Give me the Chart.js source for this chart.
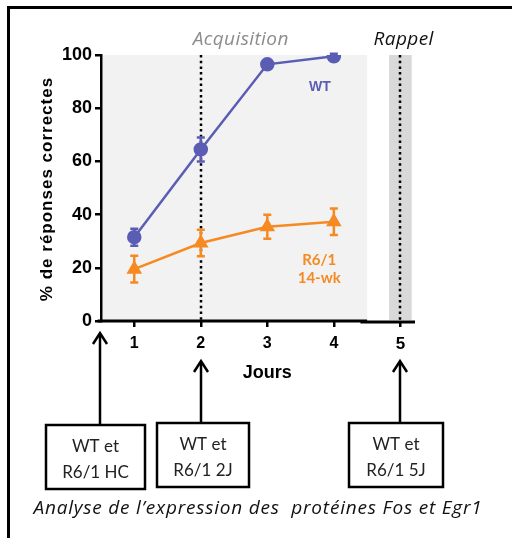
<!DOCTYPE html>
<html>
<head>
<meta charset="UTF-8">
<title>Acquisition / Rappel</title>
<script src="https://cdn.jsdelivr.net/npm/chart.js@4"></script>
<style>
  html, body { margin: 0; padding: 0; background: #fff; }
  #wrap { position: relative; width: 512px; height: 538px; }
</style>
</head>
<body>
<div id="wrap"><canvas id="chart" width="512" height="538"></canvas></div>
<script>
// jours et valeurs (% de réponses correctes)
const jours = [1, 2, 3, 4];
const wtMoy = [31.5, 64.5, 96.5, 99.5];
const wtErr = [3.2, 4.5, 1.5, 1];
const r6Moy = [19.5, 29.3, 35.4, 37.3];
const r6Err = [5, 5, 4.5, 5];
const tickJours = [1, 2, 3, 4, 5];
const tickY = [0, 20, 40, 60, 80, 100];

// moments des analyses (jour) et textes des boîtes
const analyses = [0.5, 2, 5];
const boites = [['WT et', 'R6/1 HC'], ['WT et', 'R6/1 2J'], ['WT et', 'R6/1 5J']];

const bleu = '#5a5db3';
const orange = '#f68a22';
const arial = '"Liberation Sans", Arial, sans-serif';
const calibri = 'Lato, "Open Sans", sans-serif';
const italique = '"Open Sans", Lato, sans-serif';

const decor = {
  id: 'decor',
  beforeDatasetsDraw(chart) {
    const { ctx, scales: { x, y } } = chart;
    ctx.save();
    // zone grise acquisition
    ctx.fillStyle = '#f2f2f2';
    ctx.fillRect(x.getPixelForValue(0.5) + 2, y.getPixelForValue(100), x.getPixelForValue(4.5) - x.getPixelForValue(0.5) - 2, y.getPixelForValue(0) - y.getPixelForValue(100) - 1);
    // bande rappel
    ctx.fillStyle = '#d9d9d9';
    ctx.fillRect(x.getPixelForValue(4.83), y.getPixelForValue(100), x.getPixelForValue(5.17) - x.getPixelForValue(4.83), y.getPixelForValue(0) - y.getPixelForValue(100) - 1);
    // pointillés
    ctx.strokeStyle = '#000';
    ctx.lineWidth = 2.5;
    ctx.setLineDash([2.5, 3.2]);
    [2, 5].forEach(j => {
      const px = Math.round(x.getPixelForValue(j));
      ctx.beginPath();
      ctx.moveTo(px, y.getPixelForValue(100));
      ctx.lineTo(px, y.getPixelForValue(0));
      ctx.stroke();
    });
    ctx.setLineDash([]);
    // axe x cassé
    const y0 = y.getPixelForValue(0);
    ctx.lineWidth = 3;
    ctx.beginPath();
    ctx.moveTo(x.getPixelForValue(0.45), y0);
    ctx.lineTo(x.getPixelForValue(4.5), y0);
    ctx.moveTo(x.getPixelForValue(4.4), y0 + 1);
    ctx.lineTo(x.getPixelForValue(5.22), y0 + 1);
    ctx.stroke();
    // barres d'erreur
    const barres = (moy, err, col) => {
      ctx.strokeStyle = col;
      ctx.lineWidth = 2.5;
      jours.forEach((j, i) => {
        const px = x.getPixelForValue(j);
        const hi = y.getPixelForValue(moy[i] + err[i]);
        const lo = y.getPixelForValue(moy[i] - err[i]);
        ctx.beginPath();
        ctx.moveTo(px, hi); ctx.lineTo(px, lo);
        ctx.moveTo(px - 4, hi); ctx.lineTo(px + 4, hi);
        ctx.moveTo(px - 4, lo); ctx.lineTo(px + 4, lo);
        ctx.stroke();
      });
    };
    barres(wtMoy, wtErr, bleu);
    barres(r6Moy, r6Err, orange);
    ctx.restore();
  },
  afterDraw(chart) {
    const { ctx, scales: { x, y } } = chart;
    ctx.save();
    // cadre
    ctx.fillStyle = '#000';
    ctx.fillRect(7, 6, 505, 3);
    ctx.fillRect(7, 6, 3, 532);
    ctx.textAlign = 'center';
    ctx.textBaseline = 'middle';
    // titre axe y
    ctx.save();
    ctx.translate(47, y.getPixelForValue(50) + 1);
    ctx.rotate(-Math.PI / 2);
    ctx.letterSpacing = '1px';
    ctx.font = 'bold 17px ' + arial;
    ctx.fillStyle = '#000';
    ctx.fillText('% de réponses correctes', 0, 0);
    ctx.restore();
    // titre axe x
    ctx.font = 'bold 18px ' + arial;
    ctx.fillStyle = '#000';
    ctx.fillText('Jours', x.getPixelForValue(3), 373);
    // titres de phases
    ctx.letterSpacing = '0.4px';
    ctx.font = 'italic 19px ' + italique;
    ctx.fillStyle = '#8c8c8c';
    ctx.fillText('Acquisition', x.getPixelForValue(2.6), 40);
    ctx.fillStyle = '#111';
    ctx.fillText('Rappel', x.getPixelForValue(5.05), 40);
    ctx.letterSpacing = '0px';
    // étiquettes des courbes
    ctx.font = 'bold 14px ' + arial;
    ctx.fillStyle = bleu;
    ctx.fillText('WT', x.getPixelForValue(3.79), y.getPixelForValue(88));
    ctx.font = 'bold 15px ' + calibri;
    ctx.fillStyle = orange;
    ctx.fillText('R6/1', x.getPixelForValue(3.78), y.getPixelForValue(23));
    ctx.fillText('14-wk', x.getPixelForValue(3.78), y.getPixelForValue(16));
    // flèches et boîtes
    const boxes = [[46, 425, 99, 64], [157, 423, 92, 64], [349, 423, 94, 64]];
    ctx.strokeStyle = '#000';
    ctx.lineWidth = 2.5;
    analyses.forEach((j, i) => {
      const px = Math.round(x.getPixelForValue(j)) - (i === 0 ? 1 : 0);
      const tip = i === 0 ? 333 : 361;
      const b = boxes[i];
      ctx.beginPath();
      ctx.moveTo(px, b[1]); ctx.lineTo(px, tip);
      ctx.moveTo(px - 7, tip + 11); ctx.lineTo(px, tip); ctx.lineTo(px + 7, tip + 11);
      ctx.stroke();
      ctx.strokeRect(b[0], b[1], b[2], b[3]);
      ctx.fillStyle = '#222';
      ctx.font = '17px ' + calibri;
      ctx.fillText(boites[i][0], b[0] + b[2] / 2, b[1] + 22);
      ctx.fillText(boites[i][1], b[0] + b[2] / 2, b[1] + 48);
    });
    ctx.letterSpacing = '0.8px';
    ctx.font = 'italic 19px ' + italique;
    ctx.fillStyle = '#111';
    ctx.fillText('Analyse de l\u2019expression des  protéines Fos et Egr1', 258, 509);
    ctx.restore();
  }
};

new Chart(document.getElementById('chart'), {
  type: 'scatter',
  data: {
    datasets: [{
      label: 'WT',
      data: jours.map((j, i) => ({ x: j, y: wtMoy[i] })),
      showLine: true,
      borderColor: bleu,
      backgroundColor: bleu,
      borderWidth: 2.5,
      pointStyle: 'circle',
      pointRadius: 6,
      pointHoverRadius: 6
    }, {
      label: 'R6/1 14-wk',
      data: jours.map((j, i) => ({ x: j, y: r6Moy[i] })),
      showLine: true,
      borderColor: orange,
      backgroundColor: orange,
      borderWidth: 2.5,
      pointStyle: 'triangle',
      pointRadius: 6.5,
      pointHoverRadius: 6.5
    }]
  },
  options: {
    responsive: false,
    animation: false,
    layout: { padding: { left: 26, top: 55, right: 95, bottom: 157 } },
    plugins: { legend: { display: false }, tooltip: { enabled: false } },
    scales: {
      x: {
        type: 'linear',
        min: 0.5,
        max: 5.25,
        afterBuildTicks: s => { s.ticks = tickJours.map(v => ({ value: v })); },
        afterFit: s => { s.height = 60; },
        border: { display: false },
        grid: { drawOnChartArea: false, drawTicks: true, tickLength: 6, color: '#000', lineWidth: 2.5 },
        ticks: {
          color: '#000',
          padding: 7,
          font: c => (c.tick && c.tick.value === 5) ? { family: arial, size: 17, weight: 'bold' } : { family: arial, size: 16, weight: 'bold' }
        }
      },
      y: {
        min: 0,
        max: 100,
        afterBuildTicks: s => { s.ticks = tickY.map(v => ({ value: v })); },
        afterFit: s => { s.width = 75; },
        border: { display: true, color: '#000', width: 2.5 },
        grid: { drawOnChartArea: false, drawTicks: true, tickLength: 6, color: '#000', lineWidth: 2.5 },
        ticks: { color: '#000', padding: 3, font: { family: arial, size: 18, weight: 'bold' } }
      }
    }
  },
  plugins: [decor]
});
</script>
</body>
</html>
